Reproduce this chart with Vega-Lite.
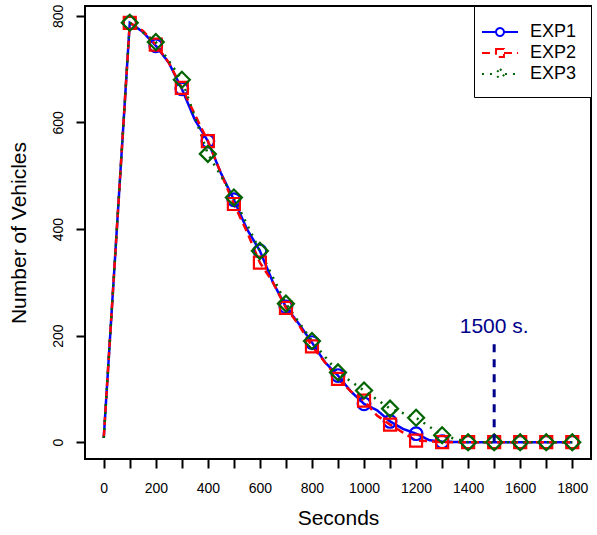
{
  "$schema": "https://vega.github.io/schema/vega-lite/v6.json",
  "width": 506,
  "height": 453,
  "autosize": {"type": "none"},
  "padding": {"left": 85, "top": 6, "right": 6, "bottom": 76},
  "background": "white",
  "config": {
    "view": {"stroke": "black", "strokeWidth": 2},
    "font": "Liberation Sans",
    "axis": {
      "domain": false,
      "grid": false,
      "tickColor": "black",
      "tickWidth": 2,
      "tickSize": 9,
      "labelColor": "black",
      "labelFontSize": 14,
      "titleColor": "black",
      "titleFontSize": 21,
      "titleFontWeight": "normal",
      "labelFont": "Liberation Sans",
      "titleFont": "Liberation Sans"
    }
  },
  "datasets": {
    "series": [
      {"t": 0, "v": 8, "exp": "EXP1"},
      {"t": 100, "v": 787, "exp": "EXP1"},
      {"t": 150, "v": 770, "exp": "EXP1"},
      {"t": 200, "v": 744, "exp": "EXP1"},
      {"t": 250, "v": 712, "exp": "EXP1"},
      {"t": 300, "v": 663, "exp": "EXP1"},
      {"t": 350, "v": 605, "exp": "EXP1"},
      {"t": 400, "v": 565, "exp": "EXP1"},
      {"t": 450, "v": 505, "exp": "EXP1"},
      {"t": 500, "v": 455, "exp": "EXP1"},
      {"t": 550, "v": 400, "exp": "EXP1"},
      {"t": 600, "v": 359, "exp": "EXP1"},
      {"t": 650, "v": 300, "exp": "EXP1"},
      {"t": 700, "v": 254, "exp": "EXP1"},
      {"t": 750, "v": 222, "exp": "EXP1"},
      {"t": 800, "v": 187, "exp": "EXP1"},
      {"t": 850, "v": 150, "exp": "EXP1"},
      {"t": 900, "v": 125, "exp": "EXP1"},
      {"t": 950, "v": 95, "exp": "EXP1"},
      {"t": 1000, "v": 72, "exp": "EXP1"},
      {"t": 1050, "v": 60, "exp": "EXP1"},
      {"t": 1100, "v": 39, "exp": "EXP1"},
      {"t": 1150, "v": 25, "exp": "EXP1"},
      {"t": 1200, "v": 16, "exp": "EXP1"},
      {"t": 1250, "v": 4, "exp": "EXP1"},
      {"t": 1300, "v": 1, "exp": "EXP1"},
      {"t": 1400, "v": 0, "exp": "EXP1"},
      {"t": 1500, "v": 0, "exp": "EXP1"},
      {"t": 1600, "v": 0, "exp": "EXP1"},
      {"t": 1700, "v": 0, "exp": "EXP1"},
      {"t": 1800, "v": 0, "exp": "EXP1"},
      {"t": 0, "v": 8, "exp": "EXP2"},
      {"t": 100, "v": 787, "exp": "EXP2"},
      {"t": 150, "v": 772, "exp": "EXP2"},
      {"t": 200, "v": 746, "exp": "EXP2"},
      {"t": 250, "v": 712, "exp": "EXP2"},
      {"t": 300, "v": 665, "exp": "EXP2"},
      {"t": 350, "v": 615, "exp": "EXP2"},
      {"t": 400, "v": 565, "exp": "EXP2"},
      {"t": 450, "v": 505, "exp": "EXP2"},
      {"t": 500, "v": 447, "exp": "EXP2"},
      {"t": 550, "v": 395, "exp": "EXP2"},
      {"t": 600, "v": 337, "exp": "EXP2"},
      {"t": 650, "v": 300, "exp": "EXP2"},
      {"t": 700, "v": 252, "exp": "EXP2"},
      {"t": 750, "v": 220, "exp": "EXP2"},
      {"t": 800, "v": 180, "exp": "EXP2"},
      {"t": 850, "v": 150, "exp": "EXP2"},
      {"t": 900, "v": 119, "exp": "EXP2"},
      {"t": 950, "v": 95, "exp": "EXP2"},
      {"t": 1000, "v": 78, "exp": "EXP2"},
      {"t": 1050, "v": 50, "exp": "EXP2"},
      {"t": 1100, "v": 33, "exp": "EXP2"},
      {"t": 1150, "v": 18, "exp": "EXP2"},
      {"t": 1200, "v": 3, "exp": "EXP2"},
      {"t": 1250, "v": 2, "exp": "EXP2"},
      {"t": 1300, "v": 0, "exp": "EXP2"},
      {"t": 1400, "v": 0, "exp": "EXP2"},
      {"t": 1500, "v": 0, "exp": "EXP2"},
      {"t": 1600, "v": 0, "exp": "EXP2"},
      {"t": 1700, "v": 0, "exp": "EXP2"},
      {"t": 1800, "v": 0, "exp": "EXP2"},
      {"t": 0, "v": 8, "exp": "EXP3"},
      {"t": 100, "v": 787, "exp": "EXP3"},
      {"t": 200, "v": 751, "exp": "EXP3"},
      {"t": 300, "v": 680, "exp": "EXP3"},
      {"t": 400, "v": 541, "exp": "EXP3"},
      {"t": 500, "v": 459, "exp": "EXP3"},
      {"t": 600, "v": 359, "exp": "EXP3"},
      {"t": 700, "v": 260, "exp": "EXP3"},
      {"t": 800, "v": 190, "exp": "EXP3"},
      {"t": 900, "v": 131, "exp": "EXP3"},
      {"t": 1000, "v": 97, "exp": "EXP3"},
      {"t": 1100, "v": 63, "exp": "EXP3"},
      {"t": 1200, "v": 46, "exp": "EXP3"},
      {"t": 1300, "v": 13, "exp": "EXP3"},
      {"t": 1400, "v": 0, "exp": "EXP3"},
      {"t": 1500, "v": 0, "exp": "EXP3"},
      {"t": 1600, "v": 0, "exp": "EXP3"},
      {"t": 1700, "v": 0, "exp": "EXP3"},
      {"t": 1800, "v": 0, "exp": "EXP3"}
    ]
  },
  "encoding": {
    "x": {
      "field": "t",
      "type": "quantitative",
      "scale": {"domain": [-72, 1872], "nice": false, "zero": false},
      "axis": {
        "values": [0, 100, 200, 300, 400, 500, 600, 700, 800, 900, 1000, 1100, 1200, 1300, 1400, 1500, 1600, 1700, 1800],
        "format": "d",
        "labelExpr": "datum.value % 200 === 0 ? datum.label : ''",
        "labelPadding": 13,
        "titlePadding": 12
      },
      "title": "Seconds"
    },
    "y": {
      "field": "v",
      "type": "quantitative",
      "scale": {"domain": [-31.5, 818.5], "nice": false, "zero": false},
      "axis": {
        "values": [0, 200, 400, 600, 800],
        "format": "d",
        "labelAngle": -90,
        "labelAlign": "center",
        "labelBaseline": "bottom",
        "labelPadding": 11,
        "titlePadding": 22
      },
      "title": "Number of Vehicles"
    }
  },
  "layer": [
    {
      "data": {"name": "series"},
      "mark": {"type": "line", "strokeWidth": 2.5},
      "encoding": {
        "color": {
          "field": "exp",
          "type": "nominal",
          "scale": {"domain": ["EXP1", "EXP2", "EXP3"], "range": ["#0000FF", "#FF0000", "#006400"]},
          "legend": {
            "title": null,
            "orient": "top-right",
            "offset": 0,
            "strokeColor": "black",
            "fillColor": "white",
            "padding": 14,
            "rowPadding": 0,
            "symbolSize": 484,
            "symbolStrokeWidth": 2,
            "labelOffset": 18,
            "labelFontSize": 18,
            "labelColor": "black",
            "labelFont": "Liberation Sans",
            "encode": {
              "symbols": {
                "update": {
                  "shape": {"signal": "datum.value === 'EXP1' ? 'M-1.64,0L-0.36,0M0.36,0L1.64,0M-0.36,0A0.36,0.36 0 1,1 0.36,0A0.36,0.36 0 1,1 -0.36,0' : datum.value === 'EXP2' ? 'M-1.64,0L-0.36,0M0.36,0L1.64,0M-0.36,-0.36L0.36,-0.36L0.36,0.36L-0.36,0.36Z' : 'M-1.64,0L-0.45,0M0.45,0L1.64,0M0,-0.45L0.45,0L0,0.45L-0.45,0Z'"},
                  "fill": {"value": "transparent"},
                  "strokeWidth": {"value": 2}
                }
              }
            }
          }
        },
        "strokeDash": {
          "field": "exp",
          "type": "nominal",
          "scale": {"domain": ["EXP1", "EXP2", "EXP3"], "range": [[1, 0], [8, 5], [2, 6]]},
          "legend": {
            "title": null,
            "orient": "top-right",
            "offset": 0,
            "strokeColor": "black",
            "fillColor": "white",
            "padding": 14,
            "rowPadding": 0,
            "symbolSize": 484,
            "symbolStrokeWidth": 2,
            "labelOffset": 18,
            "labelFontSize": 18,
            "labelColor": "black",
            "labelFont": "Liberation Sans",
            "encode": {
              "symbols": {
                "update": {
                  "shape": {"signal": "datum.value === 'EXP1' ? 'M-1.64,0L-0.36,0M0.36,0L1.64,0M-0.36,0A0.36,0.36 0 1,1 0.36,0A0.36,0.36 0 1,1 -0.36,0' : datum.value === 'EXP2' ? 'M-1.64,0L-0.36,0M0.36,0L1.64,0M-0.36,-0.36L0.36,-0.36L0.36,0.36L-0.36,0.36Z' : 'M-1.64,0L-0.45,0M0.45,0L1.64,0M0,-0.45L0.45,0L0,0.45L-0.45,0Z'"},
                  "fill": {"value": "transparent"},
                  "strokeWidth": {"value": 2}
                }
              }
            }
          }
        }
      }
    },
    {
      "data": {"name": "series"},
      "transform": [{"filter": "datum.exp === 'EXP1' && datum.t >= 100 && datum.t % 100 === 0"}],
      "mark": {"type": "point", "shape": "circle", "filled": false, "strokeWidth": 2.2, "opacity": 1, "color": "#0000FF", "size": 160}
    },
    {
      "data": {"name": "series"},
      "transform": [{"filter": "datum.exp === 'EXP2' && datum.t >= 100 && datum.t % 100 === 0"}],
      "mark": {"type": "point", "shape": "square", "filled": false, "strokeWidth": 2.2, "opacity": 1, "color": "#FF0000", "size": 144}
    },
    {
      "data": {"name": "series"},
      "transform": [{"filter": "datum.exp === 'EXP3' && datum.t >= 100 && datum.t % 100 === 0"}],
      "mark": {"type": "point", "shape": "diamond", "filled": false, "strokeWidth": 2.2, "opacity": 1, "color": "#006400", "size": 256}
    },
    {
      "data": {"values": [{"t": 1500, "v": 0, "v2": 187}]},
      "mark": {"type": "rule", "color": "#00008B", "strokeWidth": 3, "strokeDash": [8, 7]},
      "encoding": {
        "y2": {"field": "v2"}
      }
    },
    {
      "data": {"values": [{"t": 1500, "v": 205, "label": "1500 s."}]},
      "mark": {"type": "text", "color": "#00008B", "fontSize": 21, "align": "center", "baseline": "alphabetic", "font": "Liberation Sans"},
      "encoding": {
        "text": {"field": "label"}
      }
    }
  ]
}
